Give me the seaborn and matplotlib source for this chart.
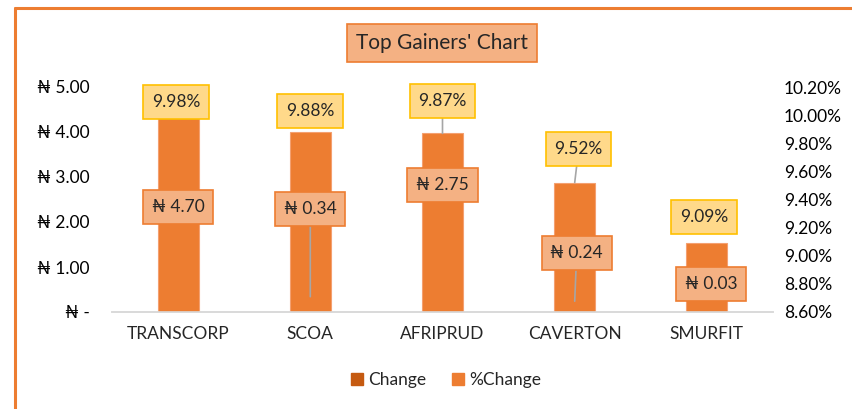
import numpy as np
import pandas as pd
import matplotlib
matplotlib.use('Agg')
import matplotlib.pyplot as plt
import matplotlib.patches as mpatches
import seaborn as sns

companies = ['TRANSCORP', 'SCOA', 'AFRIPRUD', 'CAVERTON', 'SMURFIT']
change = [4.70, 0.34, 2.75, 0.24, 0.03]
pct_change = [9.98, 9.88, 9.87, 9.52, 9.09]

# where the data labels sit (x offset from category, y in left-axis units)
pct_lab_dx = [-0.015, 0.0, 0.0, 0.03, -0.02]
pct_lab_y = [4.67, 4.47, 4.69, 3.62, 2.11]
pct_leader = [False, False, True, True, False]
chg_lab_dx = [0.0, 0.0, 0.0, 0.015, 0.03]
chg_lab_y = [2.33, 2.29, 2.82, 1.31, 0.62]
chg_leader = [False, True, False, True, False]

sns.set_style('white')
plt.rcParams['font.family'] = ['Lato', 'DejaVu Sans']

c_dark = '#C55A11'
c_bar = '#ED7D31'
c_salmon = '#F4B183'
c_gold = '#FFD98A'
fs = 12.5

df = pd.DataFrame({'company': companies, 'change': change, 'pct': pct_change})

fig = plt.figure(figsize=(8.52, 4.09), dpi=100)
ax = fig.add_axes([112 / 852, 1 - 312 / 409, (773 - 112) / 852, 225 / 409])
ax2 = ax.twinx()

sns.barplot(data=df, x='company', y='change', color=c_dark, width=0.31,
            saturation=1, ax=ax)
sns.barplot(data=df, x='company', y='pct', color=c_bar, width=0.31,
            saturation=1, ax=ax2, edgecolor='#F4A070', linewidth=0.8)

ax.set_ylim(0, 5)
ax2.set_ylim(8.6, 10.2)
ax.set_xlim(-0.5, 4.5)
ax.set_yticks(np.arange(0, 5.01, 1))
ax2.set_yticks(np.arange(8.6, 10.21, 0.2))
ax.set_yticklabels(['₦ -' if v == 0 else f'₦ {v:.2f}' for v in ax.get_yticks()])
ax2.set_yticklabels([f'{v:.2f}%' for v in ax2.get_yticks()])
ax.set_xlabel('')
ax.set_ylabel('')
ax2.set_ylabel('')

for a in (ax, ax2):
    for s in ['top', 'left', 'right']:
        a.spines[s].set_visible(False)
    a.spines['bottom'].set_color('#D9D9D9')
    a.spines['bottom'].set_linewidth(1.2)

ax.tick_params(axis='y', length=0, pad=16, labelsize=fs, labelcolor='#000000')
ax2.tick_params(axis='y', length=0, pad=8, labelsize=fs, labelcolor='#000000')
ax.tick_params(axis='x', which='major', length=0, pad=10, labelsize=fs)
ax.set_xticks(np.arange(-0.5, 4.6, 1), minor=True)
ax.tick_params(axis='x', which='minor', length=5, color='#D9D9D9', width=1.2)

box_pct = dict(boxstyle='square,pad=0.5', fc=c_gold, ec='#FFC000', lw=1.2)
box_chg = dict(boxstyle='square,pad=0.5', fc=c_salmon, ec=c_bar, lw=1.2)
line = dict(arrowstyle='-', color='#A6A6A6', lw=1.2, shrinkA=0, shrinkB=0)

for i in range(len(companies)):
    ax2.annotate(f'{pct_change[i]:.2f}%', xy=(i, pct_change[i]),
                 xycoords=ax2.transData,
                 xytext=(i + pct_lab_dx[i], pct_lab_y[i]), textcoords=ax.transData,
                 ha='center', va='center', fontsize=fs, bbox=box_pct,
                 arrowprops=line if pct_leader[i] else None,
                 annotation_clip=False, zorder=5)
    ax2.annotate(f'₦ {change[i]:.2f}', xy=(i, change[i]), xycoords=ax.transData,
                 xytext=(i + chg_lab_dx[i], chg_lab_y[i]), textcoords=ax.transData,
                 ha='center', va='center', fontsize=fs, bbox=box_chg,
                 arrowprops=line if chg_leader[i] else None,
                 annotation_clip=False, zorder=5)

fig.text(442 / 852, 1 - 43 / 409, "Top Gainers' Chart", ha='center', va='center',
         fontsize=15, bbox=dict(boxstyle='square,pad=0.45', fc=c_salmon,
                                ec=c_bar, lw=1.2))

handles = [mpatches.Patch(color=c_dark, label='Change'),
           mpatches.Patch(color=c_bar, label='%Change')]
fig.legend(handles=handles, loc='center', bbox_to_anchor=(446 / 852, 1 - 380 / 409),
           ncol=2, frameon=False, fontsize=fs, handlelength=0.7,
           handleheight=0.7, handletextpad=0.3, columnspacing=1.5)

# orange frame around chart area
fig.add_artist(plt.Line2D([15 / 852, 1], [1 - 8 / 409, 1 - 8 / 409],
                          transform=fig.transFigure, color=c_bar, lw=2.2))
fig.add_artist(plt.Line2D([15 / 852, 15 / 852], [0, 1 - 8 / 409],
                          transform=fig.transFigure, color=c_bar, lw=2.2))

fig.savefig('out.png', dpi=100)
